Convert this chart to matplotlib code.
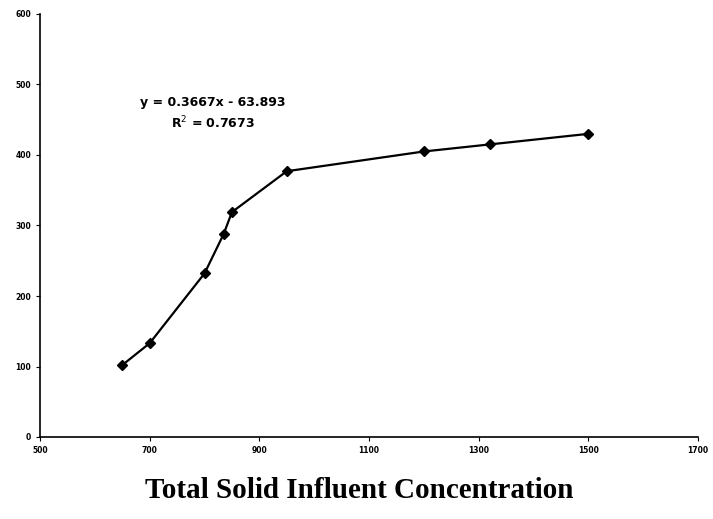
import matplotlib.pyplot as plt

# influent total solids vs. response
ts_influent = [650, 700, 800, 835, 850, 950, 1200, 1320, 1500]
response = [102, 133, 232, 288, 319, 377, 405, 415, 430]

x_ticks = [500, 700, 900, 1100, 1300, 1500, 1700]
y_ticks = [0, 100, 200, 300, 400, 500, 600]

eq_text = "y = 0.3667x - 63.893"
r2_text = "R$^2$ = 0.7673"

fig = plt.figure(figsize=(7.13, 5.19), dpi=100)
ax = fig.add_axes([40 / 713, 82 / 519, 658 / 713, 423 / 519])

ax.plot(ts_influent, response, color='black', lw=1.6,
        marker='D', markersize=5, markerfacecolor='black')

ax.set_xlim(500, 1700)
ax.set_ylim(0, 600)
ax.set_xticks(x_ticks)
ax.set_yticks(y_ticks)
ax.tick_params(labelsize=5.5, length=3, width=0.8, direction='out')
for lab in ax.get_xticklabels() + ax.get_yticklabels():
    lab.set_fontweight('bold')

ax.spines['top'].set_visible(False)
ax.spines['right'].set_visible(False)
ax.spines['left'].set_linewidth(1.2)
ax.spines['bottom'].set_linewidth(1.2)

ax.text(815, 474, eq_text, ha='center', va='center', fontsize=9,
        fontweight='bold')
ax.text(815, 445, r2_text, ha='center', va='center', fontsize=9,
        fontweight='bold')

ax.set_xlabel('Total Solid Influent Concentration', fontsize=21,
              fontweight='bold', family='Liberation Serif')
ax.xaxis.set_label_coords(0.485, -0.095)

fig.savefig('out.png', dpi=100)
